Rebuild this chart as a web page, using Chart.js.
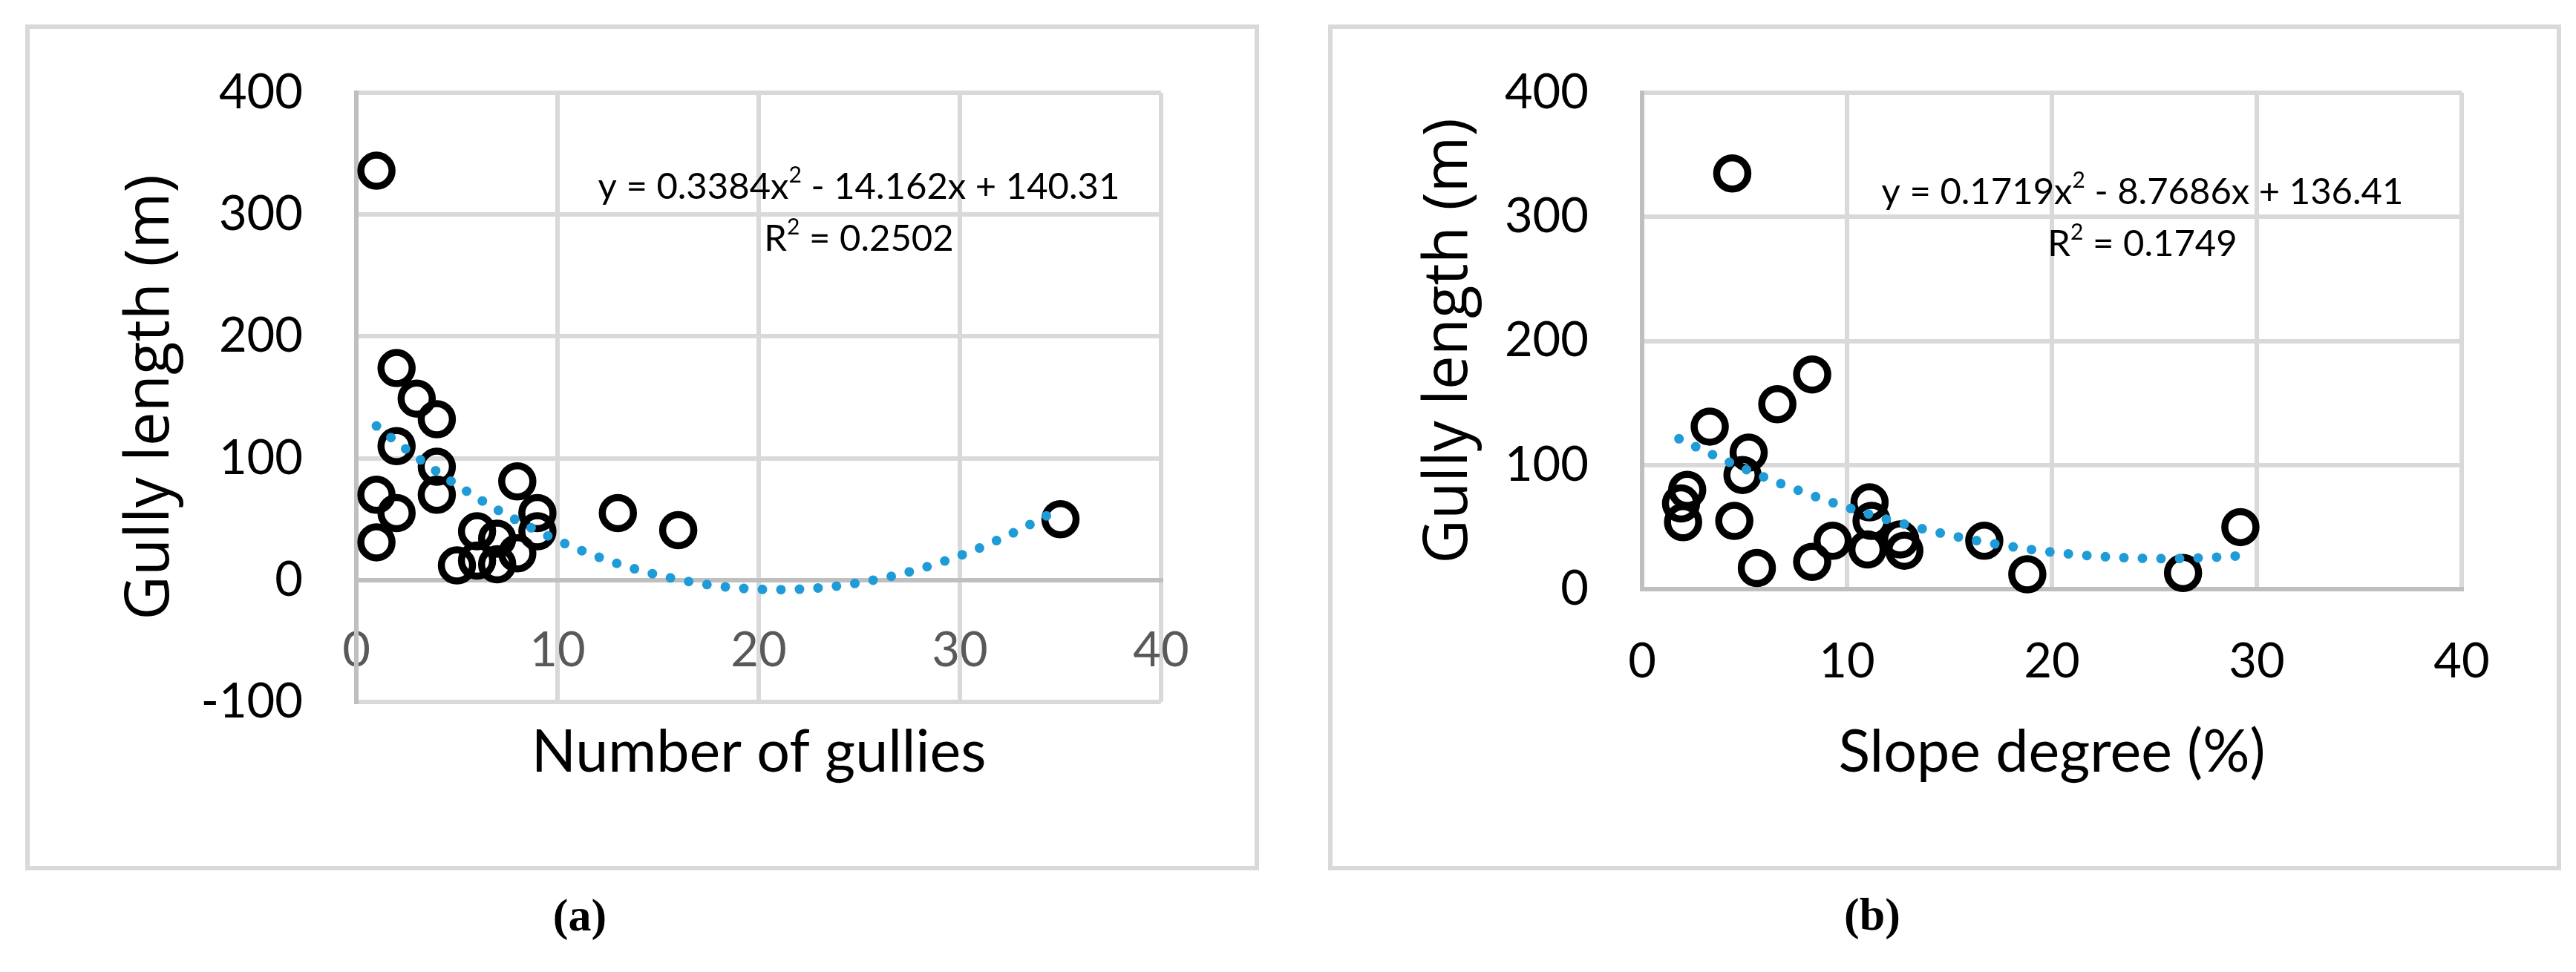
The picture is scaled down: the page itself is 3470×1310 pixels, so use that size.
<!DOCTYPE html>
<html>
<head>
<meta charset="utf-8">
<script src="https://cdn.jsdelivr.net/npm/chart.js@4.4.1/dist/chart.umd.min.js"></script>
<style>
  body { margin: 0; background: #fff; width: 3470px; height: 1310px; position: relative; overflow: hidden; }
  .box { position: absolute; border: 6px solid #d9d9d9; box-sizing: border-box; }
  canvas { position: absolute; top: 0; }
  .tag { position: absolute; font: bold 62px "Liberation Serif", serif; transform: translate(-50%, -50%); }
</style>
</head>
<body>
<div class="box" style="left:34px;top:33px;width:1662px;height:1140px"></div>
<div class="box" style="left:1789px;top:33px;width:1661px;height:1140px"></div>
<canvas id="chartA" width="1745" height="1310" style="left:0"></canvas>
<canvas id="chartB" width="1725" height="1310" style="left:1745px"></canvas>
<div class="tag" style="left:781px;top:1233px">(a)</div>
<div class="tag" style="left:2522px;top:1232px">(b)</div>
<script>
// (a) number of gullies vs gully length
var gulliesX = [1, 2, 3, 4, 2, 4, 1, 4, 2, 1, 8, 9, 9, 6, 7, 8, 5, 6, 7, 13, 16, 35];
var gulliesY = [336, 174, 149, 132, 110, 93, 70, 70, 55, 31, 81, 55, 40, 40, 34, 22, 12, 16, 13, 55, 41, 50];
// trendline (a), read at whole steps along the dotted curve
var trendAX = [1, 2, 3, 4, 5, 6, 7, 8, 9, 10, 11, 12, 13, 14, 15, 16, 17, 18, 19, 20, 21, 22, 23, 24, 25, 26, 27, 28, 29, 30, 31, 32, 33, 34, 35];
var trendAY = [126.5, 113.3, 100.9, 89.1, 78.0, 67.5, 57.8, 48.7, 40.3, 32.5, 25.5, 19.1, 13.4, 8.4, 4.0, 0.4, -2.7, -5.0, -6.6, -7.6, -7.9, -7.5, -6.4, -4.7, -2.2, 0.9, 4.6, 9.1, 14.2, 20.0, 26.5, 33.7, 41.5, 50.0, 59.2];
var eqA = ['y = 0.3384x', '2', ' - 14.162x + 140.31'];
var r2A = ['R', '2', ' = 0.2502'];
var xTicksA = [0, 10, 20, 30, 40];
var yTicksA = [-100, 0, 100, 200, 300, 400];

// (b) slope degree vs gully length
var slopeX = [4.4, 8.3, 6.6, 3.3, 5.2, 4.9, 2.2, 1.9, 2.0, 4.5, 5.6, 8.3, 9.3, 11.1, 11.2, 11.0, 12.6, 12.8, 16.7, 18.8, 26.4, 29.2];
var slopeY = [335, 173, 149, 131, 110, 92, 80, 69, 54, 55, 17, 22, 39, 70, 55, 32, 40, 31, 39, 12, 13, 50];
var trendBX = [1.8, 2, 3, 4, 5, 6, 7, 8, 9, 10, 11, 12, 13, 14, 15, 16, 17, 18, 19, 20, 21, 22, 23, 24, 25, 26, 27, 28, 29, 29.2];
var trendBY = [121.2, 119.6, 111.7, 104.1, 96.9, 90.0, 83.5, 77.3, 71.4, 65.9, 60.8, 55.9, 51.5, 47.3, 43.6, 40.1, 37.0, 34.3, 31.9, 29.8, 28.1, 26.7, 25.7, 25.0, 24.6, 24.6, 25.0, 25.7, 26.7, 26.9];
var eqB = ['y = 0.1719x', '2', ' - 8.7686x + 136.41'];
var r2B = ['R', '2', ' = 0.1749'];
var xTicksB = [0, 10, 20, 30, 40];
var yTicksB = [0, 100, 200, 300, 400];

function pairs(xs, ys) {
  return xs.map(function (x, i) { return { x: x, y: ys[i] }; });
}

// text with superscript parts (odd entries are raised)
function drawSup(ctx, parts, cx, cy, size) {
  var big = size + 'px Lato', small = Math.round(size * 0.62) + 'px Lato';
  var w = 0;
  parts.forEach(function (p, i) { ctx.font = i % 2 ? small : big; w += ctx.measureText(p).width; });
  var x = cx - w / 2;
  ctx.textBaseline = 'middle';
  ctx.textAlign = 'left';
  ctx.fillStyle = '#000';
  parts.forEach(function (p, i) {
    ctx.font = i % 2 ? small : big;
    ctx.fillText(p, x, i % 2 ? cy - size * 0.32 : cy);
    x += ctx.measureText(p).width;
  });
}

function makePanel(id, p) {
  var ctx = document.getElementById(id).getContext('2d');
  var eqPlugin = {
    id: 'eq',
    afterDraw: function (chart) {
      drawSup(chart.ctx, p.eq, p.eqX, p.eqY, 49);
      drawSup(chart.ctx, p.r2, p.eqX, p.eqY + 70, 49);
    }
  };
  return new Chart(ctx, {
    type: 'scatter',
    data: {
      datasets: [{
        data: pairs(p.tx, p.ty),
        showLine: true,
        pointRadius: 0,
        borderColor: '#1f9bd8',
        borderWidth: 13,
        borderDash: [0, 25],
        borderCapStyle: 'round',
        tension: 0,
        fill: false,
        clip: false,
        order: 0
      }, {
        data: pairs(p.x, p.y),
        pointStyle: 'circle',
        pointRadius: 21,
        pointBorderWidth: 9.5,
        pointBorderColor: '#000',
        pointBackgroundColor: 'rgba(0,0,0,0)',
        clip: false,
        order: 1
      }]
    },
    options: {
      responsive: false,
      animation: false,
      events: [],
      layout: { padding: p.pad },
      plugins: { legend: { display: false }, tooltip: { enabled: false } },
      scales: {
        x: {
          type: 'linear',
          position: p.xPos,
          min: 0, max: 40,
          afterBuildTicks: function (s) { s.ticks = p.xTicks.map(function (v) { return { value: v }; }); },
          afterFit: function (s) { s.height = 300; s.paddingLeft = 0; s.paddingRight = 0; },
          grid: { color: '#d9d9d9', lineWidth: 6, drawTicks: false, z: -1 },
          border: { color: '#bfbfbf', width: 6 },
          ticks: { font: { family: 'Lato', size: 65 }, color: p.xTickColor, padding: p.xTickPad, maxRotation: 0 },
          title: { display: true, text: p.xTitle, color: '#000', font: { family: 'Lato', size: 79 }, padding: { top: 0, bottom: p.xTitlePad } }
        },
        y: {
          type: 'linear',
          min: p.yTicks[0], max: p.yTicks[p.yTicks.length - 1],
          afterBuildTicks: function (s) { s.ticks = p.yTicks.map(function (v) { return { value: v }; }); },
          afterFit: function (s) { s.width = p.yWidth; s.paddingTop = 0; s.paddingBottom = 0; },
          grid: { color: '#d9d9d9', lineWidth: 6, drawTicks: false, z: -1 },
          border: { color: '#bfbfbf', width: 6 },
          ticks: { font: { family: 'Lato', size: 65 }, color: '#000', padding: 72 },
          title: { display: true, text: 'Gully length (m)', color: '#000', font: { family: 'Open Sans', size: 82 }, padding: { top: p.yTitlePad, bottom: 0 } }
        }
      }
    },
    plugins: [eqPlugin]
  });
}

// centred x axis in (a) takes no layout room, so the bottom padding sets the -100 line
makePanel('chartA', {
  x: gulliesX, y: gulliesY, tx: trendAX, ty: trendAY,
  xTicks: xTicksA, yTicks: yTicksA,
  xPos: { y: 0 }, xTitle: 'Number of gullies', xTickColor: '#595959',
  xTickPad: 56, xTitlePad: 20,
  yWidth: 440, yTitlePad: 114,
  pad: { left: 40, top: 125, right: 181, bottom: 364 },
  eq: eqA, r2: r2A, eqX: 1157, eqY: 252
});

makePanel('chartB', {
  x: slopeX, y: slopeY, tx: trendBX, ty: trendBY,
  xTicks: xTicksB, yTicks: yTicksB,
  xPos: 'bottom', xTitle: 'Slope degree (%)', xTickColor: '#000',
  xTickPad: 59, xTitlePad: 32,
  yWidth: 427, yTitlePad: 118,
  pad: { left: 40, top: 125, right: 154, bottom: 216 },
  eq: eqB, r2: r2B, eqX: 1141, eqY: 259
});
</script>
</body>
</html>
